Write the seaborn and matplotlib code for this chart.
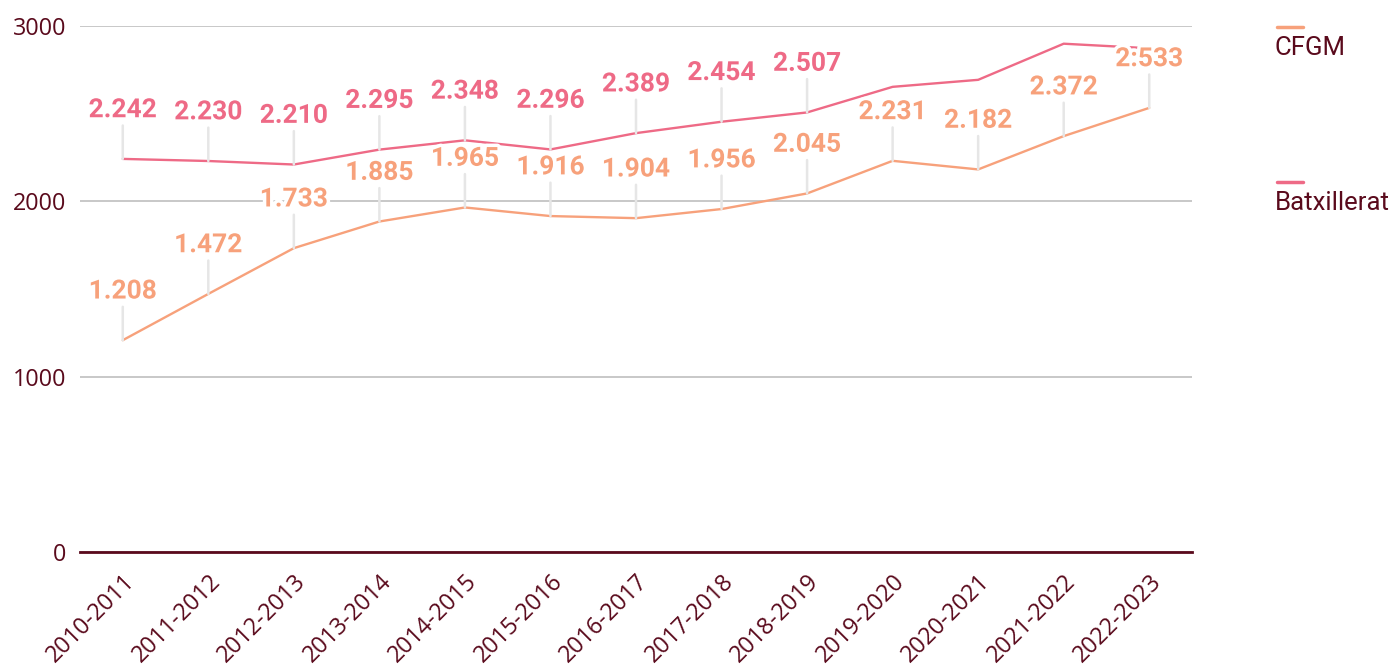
import matplotlib
matplotlib.use("Agg")
import matplotlib.pyplot as plt
import matplotlib.patheffects as pe
from matplotlib.lines import Line2D
import seaborn as sns
import pandas as pd

years = ["2010-2011", "2011-2012", "2012-2013", "2013-2014", "2014-2015", "2015-2016",
         "2016-2017", "2017-2018", "2018-2019", "2019-2020", "2020-2021", "2021-2022", "2022-2023"]
cfgm = [1208, 1472, 1733, 1885, 1965, 1916, 1904, 1956, 2045, 2231, 2182, 2372, 2533]
batx = [2242, 2230, 2210, 2295, 2348, 2296, 2389, 2454, 2507, 2653, 2693, 2899, 2873]
cfgm_labels = ["1.208", "1.472", "1.733", "1.885", "1.965", "1.916", "1.904", "1.956", "2.045",
               "2.231", "2.182", "2.372", "2:533"]
batx_labels = ["2.242", "2.230", "2.210", "2.295", "2.348", "2.296", "2.389", "2.454", "2.507",
               None, None, None, None]
series_names = ["CFGM", "Batxillerat"]
yticks = [0, 1000, 2000, 3000]

colors = {"CFGM": "#F7A17B", "Batxillerat": "#EE6A86"}
maroon = "#5A0A1C"

sns.set_theme(style="white")
plt.rcParams["font.family"] = ["Roboto", "DejaVu Sans"]

df = pd.DataFrame({
    "year": years * 2,
    "value": cfgm + batx,
    "series": ["CFGM"] * len(years) + ["Batxillerat"] * len(years),
})
df["x"] = list(range(len(years))) * 2

fig = plt.figure(figsize=(13.95, 6.68), dpi=100)
ax = fig.add_axes([80 / 1395, 116 / 668, 1112 / 1395, 526 / 668])

sns.lineplot(data=df, x="x", y="value", hue="series", palette=colors, ax=ax,
             legend=False, linewidth=1.7, zorder=3)

ax.set_xlim(-0.5, 12.5)
ax.set_ylim(0, 3000)
ax.set_yticks(yticks)
ax.set_yticklabels([str(t) for t in yticks], fontsize=16.8, color=maroon, family="Open Sans")
ax.set_xticks(range(len(years)))
ax.set_xticklabels(years, rotation=45, ha="right", rotation_mode="anchor",
                   fontsize=16.8, color=maroon, family="Open Sans")
ax.tick_params(axis="both", length=0)
ax.tick_params(axis="y", pad=10)
ax.tick_params(axis="x", pad=13)
ax.set_xlabel("")
ax.set_ylabel("")
for s in ["left", "right", "top"]:
    ax.spines[s].set_visible(False)
ax.spines["bottom"].set_color(maroon)
ax.spines["bottom"].set_linewidth(2)
ax.grid(axis="y", color="#C4C4C4", linewidth=1.3)
ax.grid(axis="x", visible=False)
ax.set_axisbelow(True)

halo = [pe.withStroke(linewidth=5, foreground="white")]
for vals, labs, name in [(cfgm, cfgm_labels, "CFGM"), (batx, batx_labels, "Batxillerat")]:
    for i, (v, lab) in enumerate(zip(vals, labs)):
        if lab is None:
            continue
        t = ax.annotate(lab, xy=(i, v), xytext=(0, 30), textcoords="offset points",
                        ha="center", va="baseline", fontsize=19, fontweight="bold",
                        color=colors[name], zorder=5, annotation_clip=False,
                        arrowprops=dict(arrowstyle="-", color="#E6E6E6", lw=1.8,
                                        shrinkA=0, shrinkB=0))
        t.set_path_effects(halo)
        t.arrow_patch.set_zorder(2)

# legend at right
for name, ly in [("CFGM", 1 - 27 / 668), ("Batxillerat", 1 - 182 / 668)]:
    fig.add_artist(Line2D([1277 / 1395, 1303 / 1395], [ly, ly], color=colors[name],
                          linewidth=2.5, transform=fig.transFigure))
    fig.text(1275 / 1395, ly - 21 / 668, name, fontsize=18.5, color=maroon,
             ha="left", va="center")

fig.savefig("out.png", dpi=100)
